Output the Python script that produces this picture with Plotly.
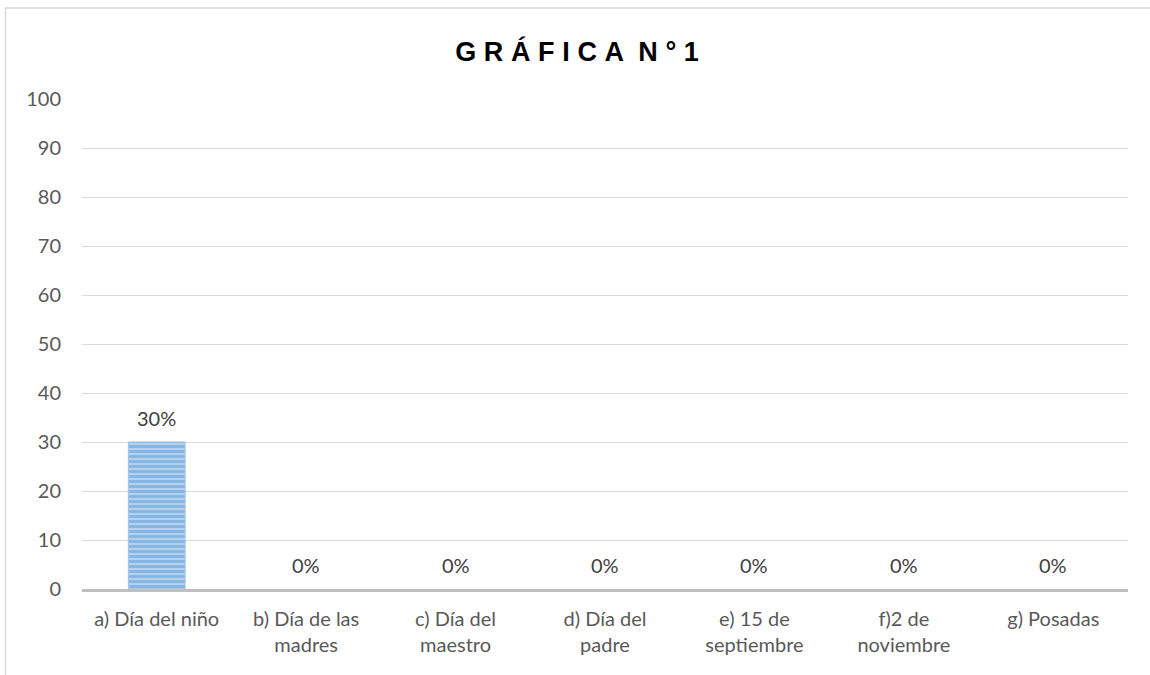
import plotly.graph_objects as go

categories = ["a) Día del niño", "b) Día de las<br>madres", "c) Día del<br>maestro",
              "d) Día del<br>padre", "e) 15 de<br>septiembre", "f)2 de<br>noviembre", "g) Posadas"]
values = [30, 0, 0, 0, 0, 0, 0]
labels = ["30%", "0%", "0%", "0%", "0%", "0%", "0%"]
y_ticks = list(range(0, 101, 10))

W, H = 1150, 675
L, R, T, B = 82, 22, 99, 86
pw, ph = W - L - R, H - T - B
FONT = "Lato, Open Sans, sans-serif"

fig = go.Figure()
fig.add_trace(go.Bar(
    x=categories, y=values,
    width=0.38,
    marker=dict(color="#8db8e4",
                line=dict(color="#9dc3e6", width=[1 if v > 0 else 0 for v in values]),
                pattern=dict(shape="-", fgcolor="#5b9bd5", bgcolor="#b4d1ef", size=5, solidity=0.6)),
))

for c, v, t in zip(categories, values, labels):
    fig.add_annotation(x=c, y=v, text=t, showarrow=False, yanchor="middle", yshift=24,
                       font=dict(family=FONT, size=20, color="#404040"))

sp = "\u2009\u200a"
title_txt = sp.join(list("GRÁFICA")) + " " + sp + sp.join(list("N°1"))

fig.update_layout(
    width=W, height=H,
    margin=dict(l=L, r=R, t=T, b=B),
    paper_bgcolor="white", plot_bgcolor="white",
    showlegend=False,
    title=dict(text="<b>" + title_txt + "</b>", x=(577 - L) / pw, xref="paper", xanchor="center",
               y=1 - 52 / H, yanchor="middle",
               font=dict(family="Arial, Liberation Sans, sans-serif", size=27, color="#000000")),
    font=dict(family=FONT, size=20, color="#595959"),
)
fig.update_yaxes(range=[0, 100], tickvals=y_ticks, showgrid=True, gridcolor="#d9d9d9", gridwidth=1,
                 zeroline=False, showline=False, ticklabelstandoff=20,
                 tickfont=dict(family=FONT, size=20, color="#595959"))
fig.update_xaxes(showline=True, linecolor="#bfbfbf", linewidth=3, showgrid=False,
                 ticklabelstandoff=10,
                 tickfont=dict(family=FONT, size=20, color="#595959"))

# chart border (decorative)
fig.add_shape(type="line", xref="paper", yref="paper",
              x0=(5.5 - L) / pw, x1=(5.5 - L) / pw, y0=-0.3, y1=(H - B - 8) / ph,
              line=dict(color="#d9d9d9", width=1.5))
fig.add_shape(type="line", xref="paper", yref="paper",
              x0=(5.5 - L) / pw, x1=(W + 5 - L) / pw, y0=(H - B - 8) / ph, y1=(H - B - 8) / ph,
              line=dict(color="#d9d9d9", width=1.5))

fig.write_html("out.html", config={"displayModeBar": False},
               post_script="document.body.style.margin='0';")
